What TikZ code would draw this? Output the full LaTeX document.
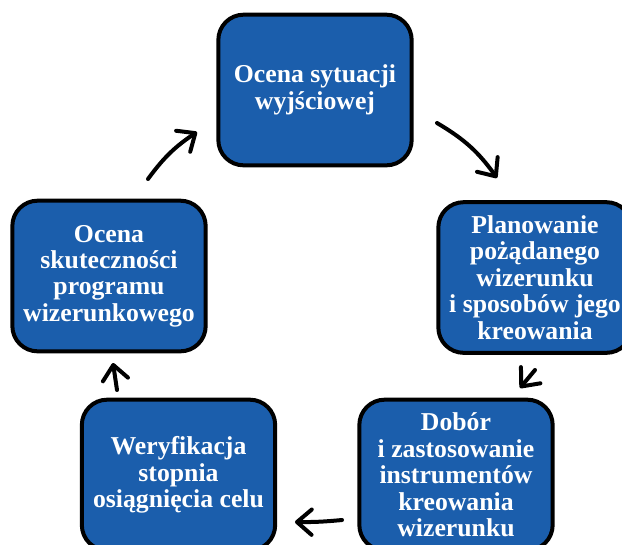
\documentclass[tikz,border=0pt]{standalone}
\usepackage{fontspec}
\setmainfont{Liberation Serif}
\usetikzlibrary{arrows.meta}
\definecolor{stageblue}{RGB}{27,94,172}
\begin{document}
\begin{tikzpicture}[x=0.75pt,y=-0.75pt,
  stagebox/.style={draw=black, line width=3pt, fill=stageblue, rounded corners=19pt,
    minimum width=145pt, minimum height=113pt, align=center, text=white,
    font=\fontsize{19.3}{19.8}\selectfont\bfseries, inner sep=0pt},
  cyclearrow/.style={line width=3pt, line cap=round,
    -{Straight Barb[length=11pt, width=19pt, line width=3pt, round]}}]
  \useasboundingbox (0,0) rectangle (622,544);
  \clip (0,0) rectangle (622,544);

  % the five stages of the cycle
  \node[stagebox] (start)  at (315,90)    {Ocena sytuacji\\wyjściowej};
  \node[stagebox] (plan)   at (535,277.5) {Planowanie\\pożądanego\\wizerunku\\i sposobów jego\\kreowania};
  \node[stagebox] (tools)  at (456,475)   {Dobór\\i zastosowanie\\instrumentów\\kreowania\\wizerunku};
  \node[stagebox] (verify) at (178.5,475) {Weryfikacja\\stopnia\\osiągnięcia celu};
  \node[stagebox] (assess) at (109,276)   {Ocena\\skuteczności\\programu\\wizerunkowego};

  % arrow end points between the stages
  \coordinate (a1s) at (437,123); \coordinate (a1e) at (497,178);
  \coordinate (a2s) at (535,370); \coordinate (a2e) at (520,388);
  \coordinate (a3s) at (342,520); \coordinate (a3e) at (295,522);
  \coordinate (a4s) at (117,390); \coordinate (a4e) at (113,363);
  \coordinate (a5s) at (148,179); \coordinate (a5e) at (197,132);

  \draw[cyclearrow] (a1s) to[bend left=12] (a1e);
  \draw[cyclearrow] (a2s) -- (a2e);
  \draw[cyclearrow] (a3s) to[bend left=3] (a3e);
  \draw[cyclearrow] (a4s) -- (a4e);
  \draw[cyclearrow] (a5s) to[bend left=10] (a5e);
\end{tikzpicture}
\end{document}
